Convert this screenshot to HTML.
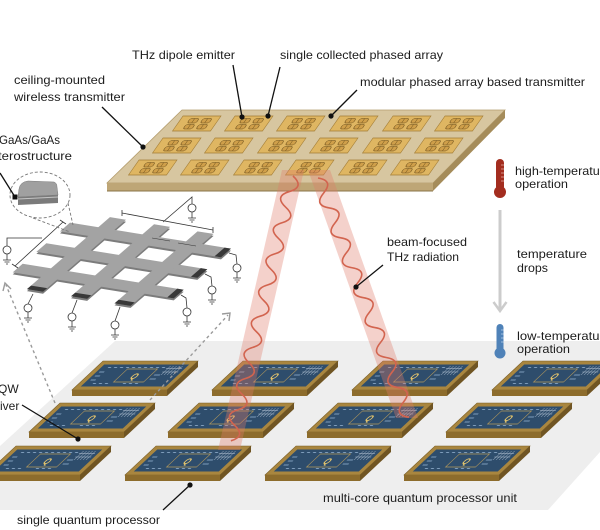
<!DOCTYPE html>
<html>
<head>
<meta charset="utf-8">
<style>
html,body{margin:0;padding:0;background:#fff;}
svg{display:block;}
text{font-family:"Liberation Sans",Arial,sans-serif;font-size:12px;fill:#1c1c1c;}
</style>
</head>
<body>
<svg width="600" height="530" viewBox="0 0 600 530" xmlns="http://www.w3.org/2000/svg">
<defs>
  <g id="chip">
    <polygon points="31,-29 126,-29 95,0 0,0" fill="#a9863f" stroke="#7b5f27" stroke-width="0.6"/>
    <polygon points="0,0 95,0 95,6 0,6" fill="#8d6c2c"/>
    <polygon points="126,-29 95,0 95,6 126,-23" fill="#705523"/>
    <g transform="translate(31,-29) skewX(-46.9)">
      <rect x="5" y="3.5" width="85" height="22" fill="#2e4d6c"/>
      <rect x="33" y="8" width="30" height="13" fill="none" stroke="#b5995c" stroke-width="0.8"/>
      <path d="M12 6.5h3M18 6.5h3M24 6.5h3M30 6.5h3M36 6.5h3M42 6.5h3M48 6.5h3M54 6.5h3M60 6.5h3M66 6.5h3M14 22.5h3M20 22.5h3M26 22.5h3M44 22.5h3M50 22.5h3M56 22.5h3M8 11h5M8 15h5M8 19h5M66 14h6M66 18h6" stroke="#7f9dbb" stroke-width="0.9"/>
      <path d="M73 5v9M76 5v9M79 5v9M82 5v9M85 5v9M71 7.5h16M71 11h16" stroke="#b7c6d6" stroke-width="0.5"/>
    </g>
  </g>
  <g id="tile">
    <rect width="38" height="15" fill="#dfb662" stroke="#a37d36" stroke-width="0.7"/>
    <g fill="#cf9f4a" stroke="#6a4e1c" stroke-width="0.6">
      <rect x="9" y="2.5" width="9" height="4.5" rx="1.8"/>
      <rect x="22" y="2.5" width="9" height="4.5" rx="1.8"/>
      <rect x="9" y="8.5" width="9" height="4.5" rx="1.8"/>
      <rect x="22" y="8.5" width="9" height="4.5" rx="1.8"/>
    </g>
    <path d="M13.5 2.5v4.5M26.5 2.5v4.5M13.5 8.5v4.5M26.5 8.5v4.5" stroke="#6a4e1c" stroke-width="0.5"/>
  </g>
  <g id="src">
    <circle cx="0" cy="0" r="4" fill="#fff" stroke="#333" stroke-width="0.8"/>
    <path d="M0 4v6M-4 10h8M-2.5 12h5M-1 14h2" stroke="#333" stroke-width="0.8" fill="none"/>
  </g>
</defs>

<!-- floor -->
<polygon points="115,341 600,341 600,452 548,510 -70,510" fill="#eeeeee"/>

<!-- chips -->
<use href="#chip" x="72" y="390"/>
<use href="#chip" x="212" y="390"/>
<use href="#chip" x="352" y="390"/>
<use href="#chip" x="492" y="390"/>
<use href="#chip" x="29" y="432"/>
<use href="#chip" x="168" y="432"/>
<use href="#chip" x="307" y="432"/>
<use href="#chip" x="446" y="432"/>
<use href="#chip" x="-15" y="475"/>
<use href="#chip" x="125" y="475"/>
<use href="#chip" x="265" y="475"/>
<use href="#chip" x="404" y="475"/>
<g text-anchor="middle">
  <text transform="translate(103,361) skewX(-46.9)" x="48" y="18" style="font-size:8px;font-weight:bold;fill:#e3c46c">Q</text>
  <text transform="translate(243,361) skewX(-46.9)" x="48" y="18" style="font-size:8px;font-weight:bold;fill:#e3c46c">Q</text>
  <text transform="translate(383,361) skewX(-46.9)" x="48" y="18" style="font-size:8px;font-weight:bold;fill:#e3c46c">Q</text>
  <text transform="translate(523,361) skewX(-46.9)" x="48" y="18" style="font-size:8px;font-weight:bold;fill:#e3c46c">Q</text>
  <text transform="translate(60,403) skewX(-46.9)" x="48" y="18" style="font-size:8px;font-weight:bold;fill:#e3c46c">Q</text>
  <text transform="translate(199,403) skewX(-46.9)" x="48" y="18" style="font-size:8px;font-weight:bold;fill:#e3c46c">Q</text>
  <text transform="translate(338,403) skewX(-46.9)" x="48" y="18" style="font-size:8px;font-weight:bold;fill:#e3c46c">Q</text>
  <text transform="translate(477,403) skewX(-46.9)" x="48" y="18" style="font-size:8px;font-weight:bold;fill:#e3c46c">Q</text>
  <text transform="translate(16,446) skewX(-46.9)" x="48" y="18" style="font-size:8px;font-weight:bold;fill:#e3c46c">Q</text>
  <text transform="translate(156,446) skewX(-46.9)" x="48" y="18" style="font-size:8px;font-weight:bold;fill:#e3c46c">Q</text>
  <text transform="translate(296,446) skewX(-46.9)" x="48" y="18" style="font-size:8px;font-weight:bold;fill:#e3c46c">Q</text>
  <text transform="translate(435,446) skewX(-46.9)" x="48" y="18" style="font-size:8px;font-weight:bold;fill:#e3c46c">Q</text>
</g>

<!-- transmitter board -->
<polygon points="182,110 505,110 433,183 107,183" fill="#d7c6a0" stroke="#b49d6e" stroke-width="0.8"/>
<polygon points="107,183 433,183 433,191 107,191" fill="#bea676"/>
<polygon points="505,110 505,118 433,191 433,183" fill="#a58c5a"/>
<line x1="107" y1="191" x2="433" y2="191" stroke="#8a7448" stroke-width="1"/>
<!-- tiles -->
<use href="#tile" transform="translate(183,116) skewX(-35)"/>
<use href="#tile" transform="translate(235,116) skewX(-35)"/>
<use href="#tile" transform="translate(287,116) skewX(-35)"/>
<use href="#tile" transform="translate(340,116) skewX(-35)"/>
<use href="#tile" transform="translate(393,116) skewX(-35)"/>
<use href="#tile" transform="translate(445,116) skewX(-35)"/>
<use href="#tile" transform="translate(163,138) skewX(-35)"/>
<use href="#tile" transform="translate(215,138) skewX(-35)"/>
<use href="#tile" transform="translate(268,138) skewX(-35)"/>
<use href="#tile" transform="translate(320,138) skewX(-35)"/>
<use href="#tile" transform="translate(373,138) skewX(-35)"/>
<use href="#tile" transform="translate(425,138) skewX(-35)"/>
<use href="#tile" transform="translate(139,160) skewX(-35)"/>
<use href="#tile" transform="translate(191,160) skewX(-35)"/>
<use href="#tile" transform="translate(244,160) skewX(-35)"/>
<use href="#tile" transform="translate(296,160) skewX(-35)"/>
<use href="#tile" transform="translate(349,160) skewX(-35)"/>
<use href="#tile" transform="translate(401,160) skewX(-35)"/>

<!-- beams -->
<polygon points="282,170 304,170 240,450 218,450" fill="#e07a6a" fill-opacity="0.35"/>
<polygon points="308,170 330,170 418,418 396,418" fill="#e07a6a" fill-opacity="0.35"/>
<path transform="translate(293,176) rotate(103.2)" d="M0 0q8 -14 16 0t16 0t16 0t16 0t16 0t16 0t16 0t16 0t16 0t16 0t16 0t16 0t16 0t16 0t16 0t16 0t16 0" fill="none" stroke="#d2644f" stroke-width="1.6"/>
<path transform="translate(318,178) rotate(69.2)" d="M0 0q8 -14 16 0t16 0t16 0t16 0t16 0t16 0t16 0t16 0t16 0t16 0t16 0t16 0t16 0t16 0t16 0t16 0" fill="none" stroke="#d2644f" stroke-width="1.6"/>

<!-- grid device -->
<g transform="translate(0,2) matrix(1.61,0.26,-0.83,0.72,81.6,212.6)" fill="#7c7c7c">
  <rect x="0" y="14" width="100" height="12"/>
  <rect x="0" y="42.5" width="100" height="12"/>
  <rect x="0" y="71" width="100" height="12"/>
  <rect x="17.6" y="0" width="10" height="100"/>
  <rect x="45" y="0" width="10" height="100"/>
  <rect x="72" y="0" width="10" height="100"/>
</g>
<g transform="matrix(1.61,0.26,-0.83,0.72,81.6,212.6)" fill="#a3a3a3">
  <rect x="0" y="14" width="100" height="12"/>
  <rect x="0" y="42.5" width="100" height="12"/>
  <rect x="0" y="71" width="100" height="12"/>
  <rect x="17.6" y="0" width="10" height="100"/>
  <rect x="45" y="0" width="10" height="100"/>
  <rect x="72" y="0" width="10" height="100"/>
  <g fill="#383838">
    <rect x="96" y="14" width="4" height="12"/>
    <rect x="96" y="42.5" width="4" height="12"/>
    <rect x="96" y="71" width="4" height="12"/>
    <rect x="17.6" y="95" width="10" height="5"/>
    <rect x="45" y="95" width="10" height="5"/>
    <rect x="72" y="95" width="10" height="5"/>
  </g>
</g>
<!-- circuit -->
<g stroke="#333" stroke-width="0.8" fill="none">
  <path d="M192 204V197L163 222"/>
  <path d="M7 246V238H42"/>
  <path d="M33 294L28 304"/>
  <path d="M77 300L72 313"/>
  <path d="M120 307L115 321"/>
  <path d="M229 253L236 255L237 264"/>
  <path d="M205 274L211 277L212 286"/>
  <path d="M181 295L186 298L187 308"/>
  <path d="M122 213L213 230M122 210V216M213 227V233"/>
  <path d="M15 266L63 222M12 264L18 268M60 220L66 224"/>
  <path d="M152 238L170 241M178 243L196 246" stroke-width="0.5"/>
</g>
<use href="#src" x="192" y="208"/>
<use href="#src" x="7" y="250"/>
<use href="#src" x="28" y="308"/>
<use href="#src" x="72" y="317"/>
<use href="#src" x="115" y="325"/>
<use href="#src" x="237" y="268"/>
<use href="#src" x="212" y="290"/>
<use href="#src" x="187" y="312"/>

<!-- GaAs block and dashed zoom circle -->
<ellipse cx="40" cy="195" rx="30" ry="23" fill="none" stroke="#777" stroke-width="0.9" stroke-dasharray="3 2"/>
<path d="M68 203L73 225M33 218L70 232" stroke="#777" stroke-width="0.9" stroke-dasharray="3 2" fill="none"/>
<path d="M18 197 L19 189 Q20 182 28 181 L54 182 Q57 183 57 187 L58 195 Z" fill="#a0a0a0" stroke="#7a7a7a" stroke-width="0.5"/>
<polygon points="18,197 58,195 58,203 18,205" fill="#7b7b7b"/>
<line x1="18" y1="199" x2="58" y2="197" stroke="#c4c4c4" stroke-width="1"/>

<!-- dashed arrows -->
<g stroke="#9a9a9a" stroke-width="1.4" fill="none" stroke-dasharray="3 3">
  <path d="M55 403L6 285"/>
  <path d="M150 400L228 315"/>
</g>
<g stroke="#9a9a9a" stroke-width="1.4" fill="none">
  <path d="M3 291L5 283L11 289"/>
  <path d="M222 314L230 313L229 321"/>
</g>

<!-- thermometers and arrow -->
<rect x="496" y="159" width="8" height="32" rx="4" fill="#a32d1f"/>
<circle cx="500" cy="192" r="6" fill="#a32d1f"/>
<path d="M501 165h3M501 169h3M501 173h3M501 177h3M501 181h3" stroke="#e8b0a8" stroke-width="0.7"/>
<line x1="500" y1="210" x2="500" y2="310" stroke="#cccccc" stroke-width="3"/>
<path d="M493.5 302L500 311L506.5 302" stroke="#cccccc" stroke-width="2.5" fill="none"/>
<rect x="496.5" y="324" width="7" height="28" rx="3.5" fill="#4f82b8"/>
<circle cx="500" cy="353" r="5.5" fill="#4f82b8"/>
<path d="M501 330h2.5M501 334h2.5M501 338h2.5M501 342h2.5" stroke="#b8d0ea" stroke-width="0.7"/>

<!-- leader lines -->
<g stroke="#111" stroke-width="1.3" fill="none">
  <path d="M233 65L242 117"/>
  <path d="M280 67L268 116"/>
  <path d="M102 107L143 147"/>
  <path d="M357 90L331 116"/>
  <path d="M0 173L15 197"/>
  <path d="M383 265L356 287"/>
  <path d="M22 405L78 439"/>
  <path d="M163 510L190 485"/>
</g>
<g fill="#111">
  <circle cx="242" cy="117" r="2.6"/>
  <circle cx="268" cy="116" r="2.6"/>
  <circle cx="143" cy="147" r="2.6"/>
  <circle cx="331" cy="116" r="2.6"/>
  <rect x="12.5" y="194.5" width="5" height="5"/>
  <circle cx="356" cy="287" r="2.6"/>
  <circle cx="78" cy="439" r="2.6"/>
  <circle cx="190" cy="485" r="2.6"/>
</g>

<!-- labels -->
<text x="132" y="59" textLength="103" lengthAdjust="spacingAndGlyphs">THz dipole emitter</text>
<text x="280" y="59" textLength="163" lengthAdjust="spacingAndGlyphs">single collected phased array</text>
<text x="14" y="84" textLength="91" lengthAdjust="spacingAndGlyphs">ceiling-mounted</text>
<text x="14" y="101" textLength="111" lengthAdjust="spacingAndGlyphs">wireless transmitter</text>
<text x="360" y="86" textLength="225" lengthAdjust="spacingAndGlyphs">modular phased array based transmitter</text>
<text x="-1" y="144" textLength="61" lengthAdjust="spacingAndGlyphs">GaAs/GaAs</text>
<text x="-2" y="160" textLength="74" lengthAdjust="spacingAndGlyphs">terostructure</text>
<text x="387" y="246" textLength="80" lengthAdjust="spacingAndGlyphs">beam-focused</text>
<text x="387" y="261" textLength="72" lengthAdjust="spacingAndGlyphs">THz radiation</text>
<text x="515" y="175" textLength="96" lengthAdjust="spacingAndGlyphs">high-temperature</text>
<text x="515" y="188" textLength="53" lengthAdjust="spacingAndGlyphs">operation</text>
<text x="517" y="258" textLength="70" lengthAdjust="spacingAndGlyphs">temperature</text>
<text x="517" y="272" textLength="31" lengthAdjust="spacingAndGlyphs">drops</text>
<text x="517" y="340" textLength="94" lengthAdjust="spacingAndGlyphs">low-temperature</text>
<text x="517" y="353" textLength="53" lengthAdjust="spacingAndGlyphs">operation</text>
<text x="-2" y="393">QW</text>
<text x="0" y="410">iver</text>
<text x="17" y="524" textLength="143" lengthAdjust="spacingAndGlyphs">single quantum processor</text>
<text x="323" y="502" textLength="194" lengthAdjust="spacingAndGlyphs">multi-core quantum processor unit</text>
</svg>
</body>
</html>
